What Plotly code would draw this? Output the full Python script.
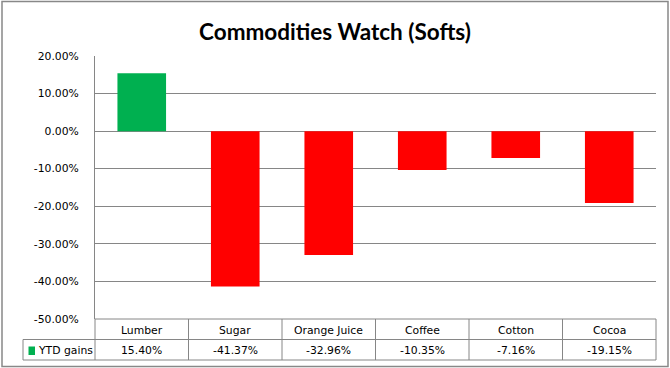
import plotly.graph_objects as go

categories = ["Lumber", "Sugar", "Orange Juice", "Coffee", "Cotton", "Cocoa"]
ytd_gains = [0.1540, -0.4137, -0.3296, -0.1035, -0.0716, -0.1915]
series_name = "YTD gains"
title_text = "Commodities Watch (Softs)"
tick_values = [0.2, 0.1, 0.0, -0.1, -0.2, -0.3, -0.4, -0.5]
tick_labels = ["20.00%", "10.00%", "0.00%", "-10.00%", "-20.00%", "-30.00%", "-40.00%", "-50.00%"]
pos_color = "#00B050"
neg_color = "#FF0000"

W, H = 670, 368
L, R, T, B = 95, 656, 56, 319
PW, PH = R - L, B - T

def px(x):
    return (x - L) / PW

def py(y):
    return (B - y) / PH

colors = [pos_color if v >= 0 else neg_color for v in ytd_gains]

fig = go.Figure()
fig.add_trace(go.Bar(x=categories, y=ytd_gains, marker=dict(color=colors, line=dict(width=0)),
                     width=0.52, showlegend=False, hoverinfo="skip"))

grid = "#868686"
fs = 10.8
fig.update_layout(
    width=W, height=H,
    margin=dict(l=L, r=W - R, t=T, b=H - B),
    paper_bgcolor="white", plot_bgcolor="white",
    title=dict(text=title_text, x=0.5, xanchor="center", y=1 - 32 / H, yanchor="middle",
               font=dict(family="Lato", size=22.5, color="black", weight="bold")),
    xaxis=dict(showticklabels=False, showgrid=False, zeroline=False, showline=False,
               range=[-0.5, len(categories) - 0.5], fixedrange=True),
    yaxis=dict(range=[-0.5, 0.2], tickvals=tick_values, ticktext=tick_labels,
               showgrid=True, gridcolor=grid, gridwidth=1, zeroline=False,
               showline=True, linecolor=grid, linewidth=1, ticks="",
               ticklabelstandoff=13, fixedrange=True,
               tickfont=dict(family="DejaVu Sans", size=fs, color="black")),
    font=dict(family="DejaVu Sans", size=fs, color="black"),
)

shapes = []
def line(x0, y0, x1, y1, color=grid, w=1):
    shapes.append(dict(type="line", xref="paper", yref="paper",
                       x0=px(x0), y0=py(y0), x1=px(x1), y1=py(y1),
                       line=dict(color=color, width=w)))

# table grid
r0, r1, r2 = 319, 339.5, 360
left_hdr = 23
line(L, r0, R, r0)
line(left_hdr, r1, R, r1)
line(left_hdr, r2, R, r2)
line(left_hdr, r1, left_hdr, r2)
n = len(categories)
for i in range(n + 1):
    xb = L + PW * i / n
    line(xb, r0, xb, r2)

# outer border
shapes.append(dict(type="rect", xref="paper", yref="paper",
                   x0=px(2), y0=py(1.5), x1=px(668), y1=py(366.5),
                   line=dict(color="#888888", width=1.5)))

# legend key
shapes.append(dict(type="rect", xref="paper", yref="paper",
                   x0=px(28.5), y0=py(346.5), x1=px(35), y1=py(355),
                   fillcolor=pos_color, line=dict(width=0)))

annotations = []
for c, v in zip(categories, ytd_gains):
    annotations.append(dict(x=c, xref="x", y=py(330), yref="paper", text=c,
                            showarrow=False, xanchor="center", yanchor="middle",
                            font=dict(family="DejaVu Sans", size=fs, color="black")))
    annotations.append(dict(x=c, xref="x", y=py(350.5), yref="paper", text=f"{v:.2%}",
                            showarrow=False, xanchor="center", yanchor="middle",
                            font=dict(family="DejaVu Sans", size=fs, color="black")))
annotations.append(dict(x=px(36), xref="paper", y=py(350.5), yref="paper", text=series_name,
                        showarrow=False, xanchor="left", yanchor="middle",
                        font=dict(family="DejaVu Sans", size=fs, color="black")))

fig.update_layout(shapes=shapes, annotations=annotations)
fig.write_html("out.html", config={"displayModeBar": False},
               post_script="document.body.style.margin='0';")
